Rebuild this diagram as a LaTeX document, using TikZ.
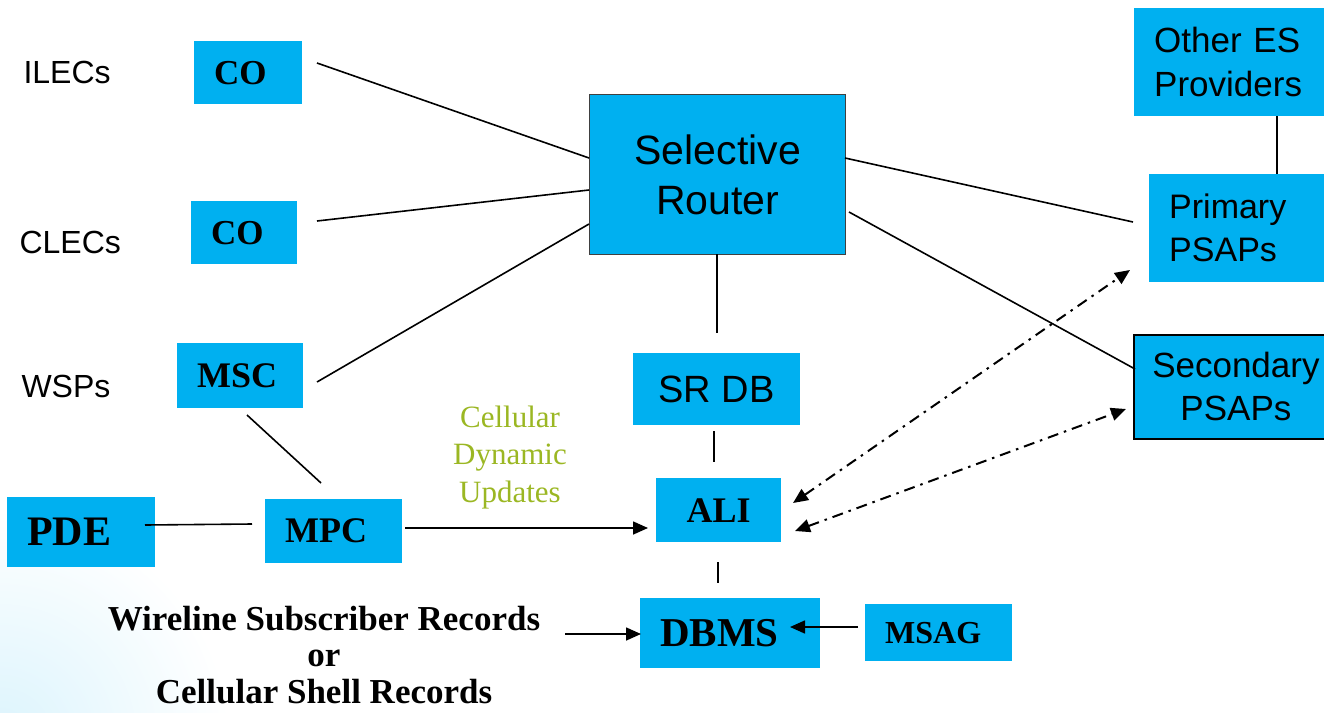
\documentclass[tikz,border=0pt]{standalone}
\usepackage{fontspec}
\setmainfont{Liberation Serif}
\setsansfont{Liberation Sans}
\usetikzlibrary{arrows.meta}
\definecolor{boxblue}{RGB}{0,176,240}
\definecolor{olivegreen}{RGB}{155,183,35}
\newcommand\fsz[2]{\fontsize{#1}{#2}\selectfont}
\begin{document}
\begin{tikzpicture}[x=1pt,y=-1pt,
  bx/.style={fill=boxblue, inner sep=0pt, anchor=north west},
  sbx/.style={bx, inner xsep=20pt, align=left, font=\bfseries},
  cbx/.style={bx, align=center, font=\sffamily},
  lbl/.style={anchor=base west, font=\sffamily\fsz{32}{40}},
  conn/.style={line width=1.6pt},
  arr/.style={conn, -{Triangle[length=15pt,width=13pt]}},
  dd/.style={line width=2pt, dash pattern=on 11pt off 6pt on 2.5pt off 6pt,
     {Triangle[length=15pt,width=13pt]}-{Triangle[length=15pt,width=13pt]}}
]
\useasboundingbox (0,0) rectangle (1324,712);
\begin{scope}
\clip (0,0) rectangle (1324,712);
\shade[inner color=boxblue!14, outer color=white] (0,740) circle (230);
\end{scope}

% labels
\node[lbl] (ilec) at (20,83) {ILECs};
\node[lbl] (clec) at (16,253) {CLECs};
\node[lbl] (wsp) at (18,397) {WSPs};

% serif boxes
\node[sbx, text width=68pt, minimum height=63pt, font=\bfseries\fsz{35}{40}] (co1) at (194,41) {CO};
\node[sbx, text width=66pt, minimum height=63pt, font=\bfseries\fsz{35}{40}] (co2) at (191,201) {CO};
\node[sbx, text width=86pt, minimum height=65pt, font=\bfseries\fsz{36}{40}] (msc) at (177,343) {MSC};
\node[sbx, text width=108pt, minimum height=70pt, font=\bfseries\fsz{42}{46}] (pde) at (7,497) {PDE};
\node[sbx, text width=97pt, minimum height=64pt, font=\bfseries\fsz{36}{40}] (mpc) at (265,499) {MPC};
\node[sbx, inner xsep=0pt, text width=125pt, align=center, minimum height=64pt, font=\bfseries\fsz{36}{40}] (ali) at (656,478) {ALI};
\node[sbx, text width=140pt, minimum height=70pt, font=\bfseries\fsz{41}{46}] (dbms) at (640,598) {DBMS};
\node[sbx, text width=107pt, minimum height=57pt, font=\bfseries\fsz{32}{36}] (msag) at (865,604) {MSAG};

% sans boxes
\node[cbx, draw=black!75, line width=1.3pt, minimum width=256pt, minimum height=160pt, font=\sffamily\fsz{41}{50}] (sr) at (589,94) {Selective\\ Router};
\node[cbx, minimum width=167pt, minimum height=72pt, font=\sffamily\fsz{38}{44}] (srdb) at (633,353) {SR DB};
\node[bx, inner xsep=20pt, text width=150pt, align=left, minimum height=108pt, font=\sffamily\fsz{35}{44}] (other) at (1134,8) {Other ES\\Providers};
\node[bx, inner xsep=20pt, text width=135pt, align=left, minimum height=108pt, font=\sffamily\fsz{34}{43}] (prim) at (1149,174) {Primary\\PSAPs};
\node[cbx, draw=black, line width=1.8pt, minimum width=204pt, minimum height=104pt, font=\sffamily\fsz{35}{43}] (sec) at (1133,334) {Secondary\\PSAPs};

% free texts
\node[align=center, text=olivegreen, font=\fsz{31}{37.5}, anchor=base] (cdu) at (510,502) {Cellular\\Dynamic\\Updates};
\node[align=center, font=\bfseries\fsz{35}{36.5}, anchor=base] (wsr) at (324,703) {Wireline Subscriber Records\\or\\Cellular Shell Records};

% connector end points
\coordinate (a1) at (317,63);   \coordinate (a2) at (589,158);
\coordinate (b1) at (317,221);  \coordinate (b2) at (589,190);
\coordinate (c1) at (317,382);  \coordinate (c2) at (589,224);
\coordinate (d1) at (717,254);  \coordinate (d2) at (717,333);
\coordinate (e1) at (714,431);  \coordinate (e2) at (714,462);
\coordinate (f1) at (718,562);  \coordinate (f2) at (718,583);
\coordinate (g1) at (845,158);  \coordinate (g2) at (1133,222);
\coordinate (h1) at (849,212);  \coordinate (h2) at (1135,369);
\coordinate (i1) at (1277,116); \coordinate (i2) at (1277,174);
\coordinate (j1) at (247,415);  \coordinate (j2) at (321,483);
\coordinate (k1) at (145,525);  \coordinate (k2) at (252,524);
\coordinate (l1) at (405,528);  \coordinate (l2) at (648,528);
\coordinate (m1) at (793,503);  \coordinate (m2) at (1130,270);
\coordinate (n1) at (795,531);  \coordinate (n2) at (1126,409);
\coordinate (o1) at (565,634);  \coordinate (o2) at (641,634);
\coordinate (p1) at (858,627);  \coordinate (p2) at (790,627);

\draw[conn] (a1) -- (a2);
\draw[conn] (b1) -- (b2);
\draw[conn] (c1) -- (c2);
\draw[conn] (d1) -- (d2);
\draw[conn] (e1) -- (e2);
\draw[conn] (f1) -- (f2);
\draw[conn] (g1) -- (g2);
\draw[conn] (h1) -- (h2);
\draw[conn] (i1) -- (i2);
\draw[conn] (j1) -- (j2);
\draw[conn] (k1) -- (k2);
\draw[arr] (l1) -- (l2);
\draw[dd] (m1) -- (m2);
\draw[dd] (n1) -- (n2);
\draw[arr] (o1) -- (o2);
\draw[arr] (p1) -- (p2);
\end{tikzpicture}
\end{document}
